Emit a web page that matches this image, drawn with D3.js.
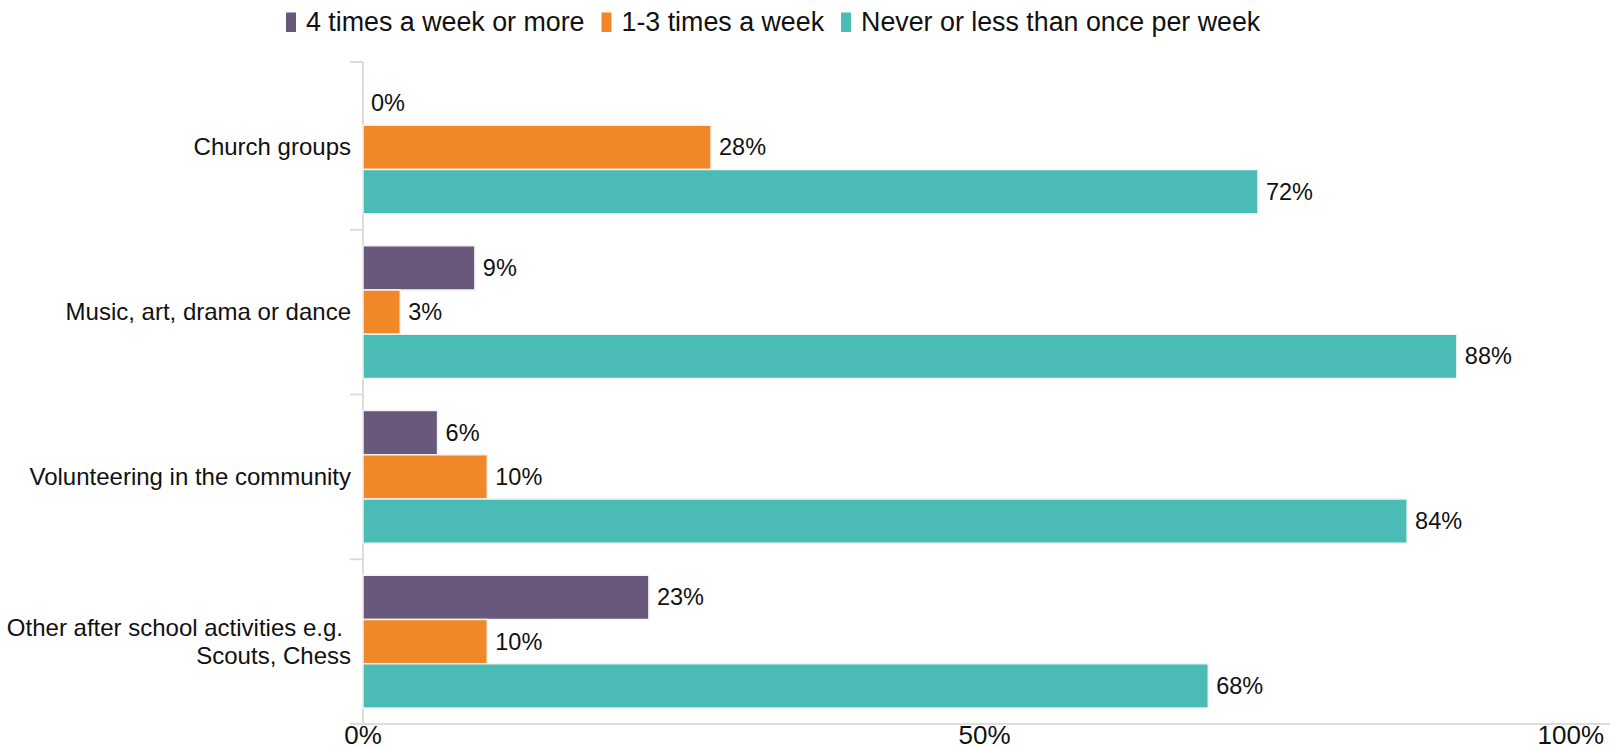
<!DOCTYPE html>
<html>
<head>
<meta charset="utf-8">
<script src="https://cdn.jsdelivr.net/npm/d3@7"></script>
<style>
  html, body { margin: 0; padding: 0; background: #fff; }
  svg { display: block; font-family: "Liberation Sans", Arial, sans-serif; }
</style>
</head>
<body>
<svg id="chart" width="1610" height="748"></svg>
<script>
const categories = [
  ["Church groups"],
  ["Music, art, drama or dance"],
  ["Volunteering in the community"],
  ["Other after school activities e.g.", "Scouts, Chess"]
];
const seriesNames = ["4 times a week or more", "1-3 times a week", "Never or less than once per week"];
const seriesColors = ["#69587c", "#f0882a", "#4bbbb5"];
const fourPlus = [0, 9, 6, 23];
const oneToThree = [28, 3, 10, 10];
const neverOrLess = [72, 88, 84, 68];
const xTicks = [0, 50, 100];

const series = [fourPlus, oneToThree, neverOrLess];
const svg = d3.select("#chart");

const x = d3.scaleLinear().domain([0, 100]).range([363, 1606]);
const y0 = d3.scaleBand().domain(d3.range(categories.length)).range([65, 724]);
const y1 = d3.scaleBand().domain(d3.range(series.length)).range([16, y0.bandwidth() - 16]);

// axes lines
svg.append("line").attr("x1", x(0)).attr("x2", x(0)).attr("y1", 62).attr("y2", 724)
  .attr("stroke", "#dcdcdc").attr("stroke-width", 2);
svg.append("line").attr("x1", x(0)).attr("x2", 1610).attr("y1", 724).attr("y2", 724)
  .attr("stroke", "#dcdcdc").attr("stroke-width", 2);
// y ticks at band boundaries
const bounds = d3.range(categories.length + 1).map(i => i === 0 ? 62 : y0.range()[0] + i * y0.step());
svg.selectAll(".ytick").data(bounds).join("line")
  .attr("x1", 350).attr("x2", x(0)).attr("y1", d => d).attr("y2", d => d)
  .attr("stroke", "#dcdcdc").attr("stroke-width", 2);

// x tick labels
svg.selectAll(".xlab").data(xTicks).join("text")
  .attr("x", d => d === 100 ? 1604 : x(d))
  .attr("y", 744)
  .attr("text-anchor", d => d === 100 ? "end" : "middle")
  .attr("font-size", 26).attr("fill", "#111")
  .text(d => d + "%");

// category labels
categories.forEach((lines, i) => {
  const cy = y0(i) + y0.bandwidth() / 2;
  const n = lines.length;
  lines.forEach((ln, j) => {
    svg.append("text")
      .attr("x", (n > 1 && j < n - 1) ? 343 : 351)
      .attr("y", cy + 8 + (j - (n - 1) / 2) * 28)
      .attr("text-anchor", "end")
      .attr("font-size", 24).attr("fill", "#111")
      .text(ln);
  });
});

// bars
const g = svg.selectAll(".grp").data(categories).join("g")
  .attr("transform", (d, i) => `translate(0,${y0(i)})`);
series.forEach((vals, s) => {
  g.append("rect")
    .attr("x", x(0))
    .attr("y", y1(s))
    .attr("width", (d, i) => x(vals[i]) - x(0))
    .attr("height", y1.bandwidth())
    .attr("fill", seriesColors[s])
    .attr("stroke", "#f2f2f2").attr("stroke-width", 1.5);
  g.append("text")
    .attr("x", (d, i) => x(vals[i]) + 8)
    .attr("y", y1(s) + y1.bandwidth() / 2 + 8)
    .attr("font-size", 23.5).attr("fill", "#111")
    .text((d, i) => vals[i] + "%");
});

// legend
let lx = 286;
seriesNames.forEach((name, s) => {
  svg.append("rect").attr("x", lx).attr("y", 12.5).attr("width", 10).attr("height", 19.5)
    .attr("fill", seriesColors[s]);
  const t = svg.append("text").attr("x", lx + 20).attr("y", 31)
    .attr("font-size", 26.8).attr("fill", "#111").text(name);
  lx = lx + 20 + t.node().getComputedTextLength() + 17;
});
</script>
</body>
</html>
